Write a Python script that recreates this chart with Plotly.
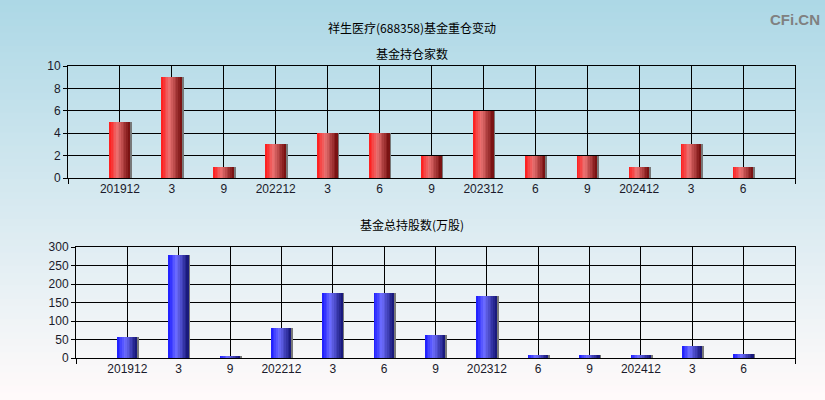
import plotly.graph_objects as go

# 季度标签与数值
periods = ["201912", "3", "9", "202212", "3", "6", "9", "202312", "6", "9", "202412", "3", "6"]
fund_count = [5, 9, 1, 3, 4, 4, 2, 6, 2, 2, 1, 3, 1]
fund_shares = [57, 278, 3, 81, 176, 176, 62, 168, 8, 8, 8, 32, 11]

xpos = list(range(len(periods)))
W, H = 825, 400
bar_w = 0.385
n_slices = 12


def lerp(c1, c2, t):
    return tuple(round(a + (b - a) * t) for a, b in zip(c1, c2))


def grad(stops, t):
    # stops: list of (pos, rgb)
    for (p0, c0), (p1, c1) in zip(stops, stops[1:]):
        if p0 <= t <= p1:
            return "rgb(%d,%d,%d)" % lerp(c0, c1, (t - p0) / (p1 - p0))
    return "rgb(%d,%d,%d)" % stops[-1][1]


red_stops = [(0, (255, 25, 25)), (0.4, (235, 115, 115)), (1, (115, 12, 12))]
blue_stops = [(0, (25, 25, 255)), (0.4, (110, 110, 255)), (1, (20, 20, 115))]

fig = go.Figure()


def add_bars(values, stops, xa, ya):
    # shadow on the right edge
    fig.add_trace(go.Bar(x=xpos, y=values, width=0.045, offset=bar_w / 2 - 0.01,
                         marker=dict(color="rgb(120,120,120)", line=dict(width=0)),
                         xaxis=xa, yaxis=ya, hoverinfo="skip", showlegend=False))
    sw = bar_w / n_slices
    for i in range(n_slices):
        t = (i + 0.5) / n_slices
        fig.add_trace(go.Bar(x=xpos, y=values, width=sw * 1.05, offset=-bar_w / 2 + i * sw,
                             marker=dict(color=grad(stops, t), line=dict(width=0)),
                             xaxis=xa, yaxis=ya, showlegend=False,
                             hoverinfo="skip" if i else "y"))


add_bars(fund_count, red_stops, "x", "y")
add_bars(fund_shares, blue_stops, "x2", "y2")

# vertical background gradient
bg_top = (173, 216, 230)
bg_bot = (255, 250, 250)
nb = 60
shapes = []
for i in range(nb):
    t = i / (nb - 1)
    shapes.append(dict(type="rect", xref="paper", yref="paper", x0=-0.01, x1=1.01,
                       y0=1 - (i + 1) / nb - 0.002, y1=1 - i / nb + 0.002, layer="below",
                       line=dict(width=0), fillcolor="rgb(%d,%d,%d)" % lerp(bg_top, bg_bot, t)))

tick_font = dict(family="Liberation Sans, Arial, sans-serif", size=12, color="#1a1a2a")
axis_common = dict(showline=True, linecolor="black", linewidth=1, mirror=True,
                   showgrid=True, gridcolor="black", gridwidth=1, zeroline=False,
                   tickfont=tick_font, automargin=False)

xcommon = dict(axis_common, range=[-1, 13], tickmode="array", tickvals=xpos,
               ticktext=periods, ticks="",
               minor=dict(ticks="outside", tick0=-1, dtick=14, ticklen=5,
                          tickcolor="black", showgrid=False))

fig.update_layout(
    width=W, height=H,
    margin=dict(l=0, r=0, t=0, b=0, pad=0, autoexpand=False),
    paper_bgcolor="rgb(252,249,250)",
    plot_bgcolor="rgba(0,0,0,0)",
    barmode="overlay",
    bargap=0,
    shapes=shapes,
    xaxis=dict(xcommon, domain=[68 / W, 795 / W], anchor="y"),
    yaxis=dict(axis_common, domain=[1 - 178 / H, 1 - 66 / H], range=[0, 10], dtick=2,
               ticks="outside", ticklen=4, tickcolor="black", anchor="x"),
    xaxis2=dict(xcommon, domain=[76 / W, 795 / W], anchor="y2"),
    yaxis2=dict(axis_common, domain=[1 - 358 / H, 1 - 247 / H], range=[0, 300], dtick=50,
                ticks="outside", ticklen=4, tickcolor="black", anchor="x2"),
    annotations=[
        dict(text="祥生医疗(688358)基金重仓变动", x=412 / W, y=1 - 17 / H, xref="paper", yref="paper",
             showarrow=False, font=dict(family="Noto Sans CJK SC", size=12, color="black")),
        dict(text="基金持仓家数", x=412 / W, y=1 - 43 / H, xref="paper", yref="paper",
             showarrow=False, font=dict(family="Noto Sans CJK SC", size=12, color="black")),
        dict(text="基金总持股数(万股)", x=412 / W, y=1 - 224 / H, xref="paper", yref="paper",
             showarrow=False, font=dict(family="Noto Sans CJK SC", size=12, color="black")),
        dict(text="<b>CFi.CN</b>", x=822 / W, y=1 - 9 / H, xref="paper", yref="paper",
             xanchor="right", showarrow=False,
             font=dict(family="Liberation Sans, Arial", size=15, color="rgb(128,128,128)")),
    ],
)

fig.write_html("out.html", config={"displayModeBar": False},
               post_script="document.body.style.margin='0';")
